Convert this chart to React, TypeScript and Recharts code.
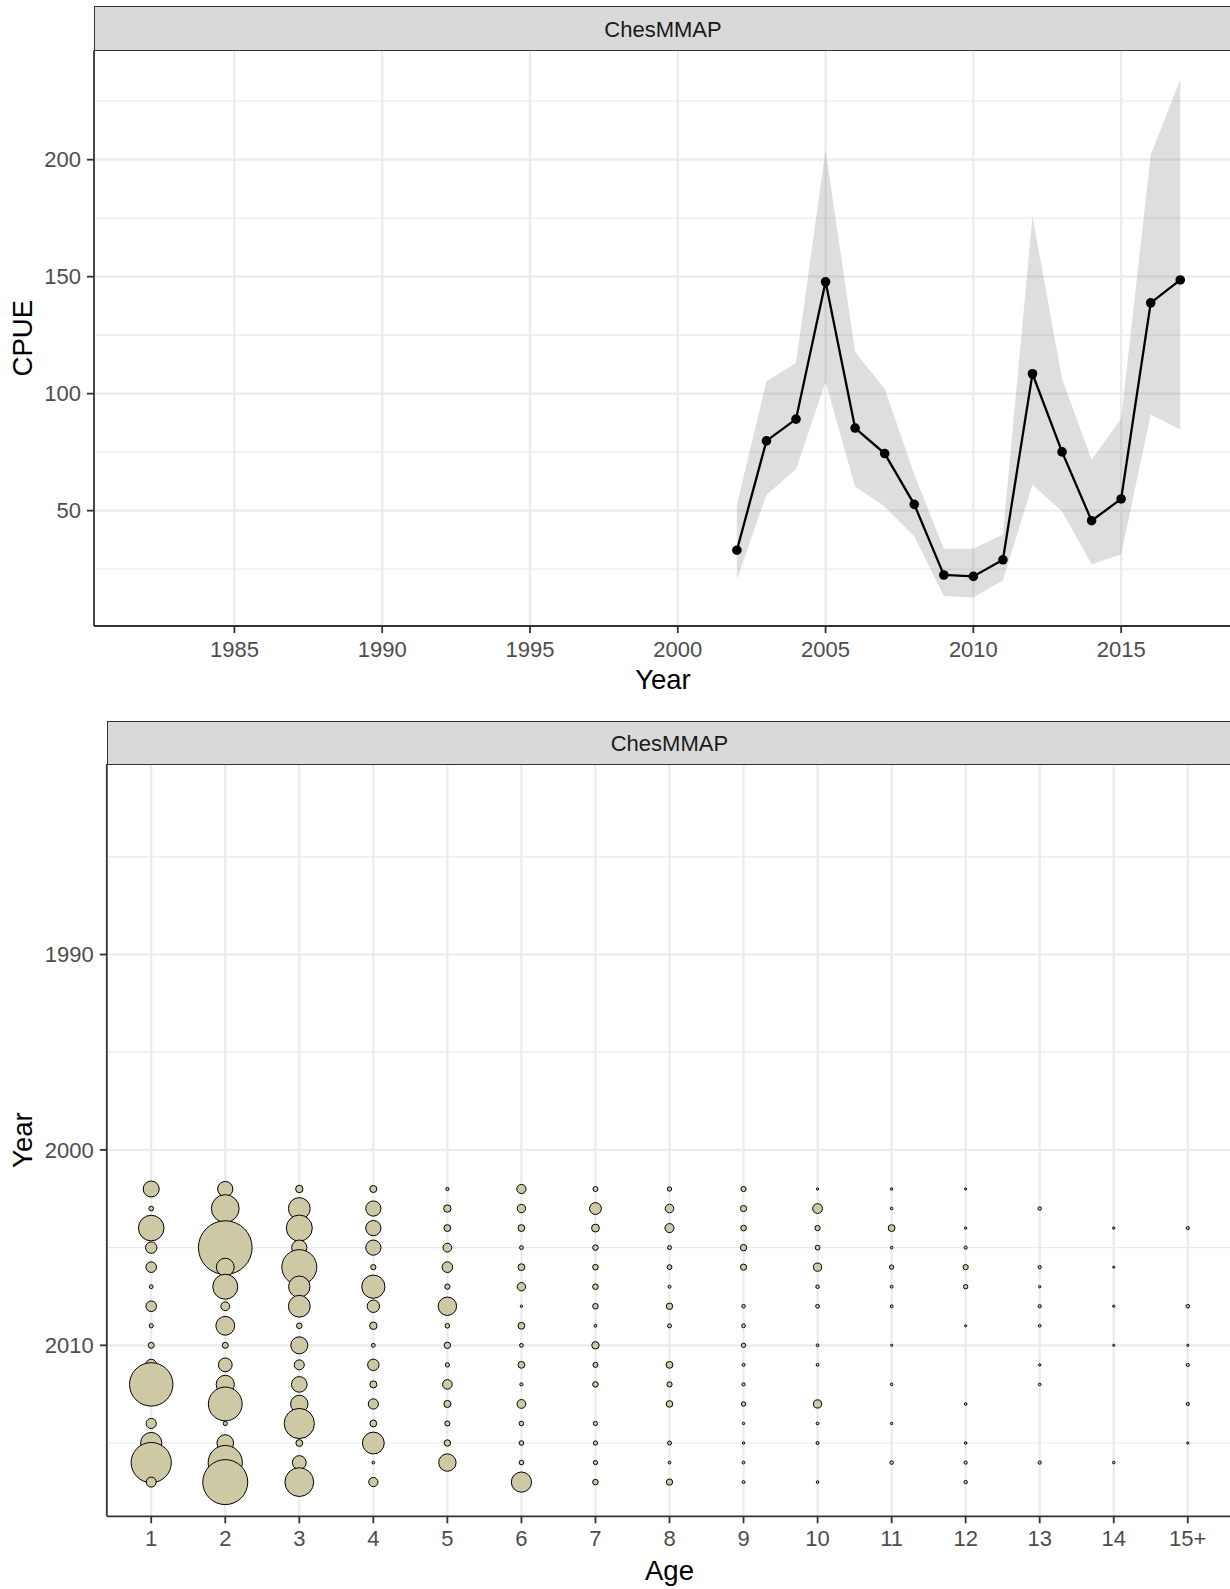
import {
  ComposedChart,
  ScatterChart,
  Area,
  Line,
  Scatter,
  XAxis,
  YAxis,
  ZAxis,
  CartesianGrid,
} from "recharts";

// CPUE index with 95% band
const surveyYears = [2002, 2003, 2004, 2005, 2006, 2007, 2008, 2009, 2010, 2011, 2012, 2013, 2014, 2015, 2016, 2017];
const cpue = [33.1, 79.8, 89.1, 147.8, 85.3, 74.4, 52.7, 22.5, 21.9, 29.0, 108.5, 75.1, 45.7, 55.0, 138.8, 148.6];
const cpueLo = [20.6, 56.8, 67.7, 105.0, 60.3, 51.8, 39.1, 13.5, 12.9, 20.2, 61.1, 49.7, 27.1, 31.3, 91.1, 84.7];
const cpueHi = [52.6, 105.3, 113.1, 204.2, 117.7, 102.1, 65.6, 33.7, 33.7, 39.8, 175.9, 106.4, 71.7, 89.4, 202.1, 234.3];

const yearTicks = [1985, 1990, 1995, 2000, 2005, 2010, 2015];
const cpueTicks = [50, 100, 150, 200];
const cpueMinor = [25, 75, 125, 175, 225];

// proportion at age, one row per age, columns follow surveyYears
const ageLabels = ["1", "2", "3", "4", "5", "6", "7", "8", "9", "10", "11", "12", "13", "14", "15+"];
const propAtAge: (number | null)[][] = [
  [0.064, 0.0053, 0.1638, 0.0325, 0.0281, 0.0036, 0.0281, 0.0044, 0.009, 0.0314, 0.4709, null, 0.026, 0.1124, 0.404, 0.025],
  [0.0578, 0.1932, 0.013, 0.7213, 0.0792, 0.1563, 0.0194, 0.0884, 0.009, 0.0476, 0.0828, 0.2856, 0.0044, 0.0689, 0.2924, 0.5063],
  [0.0137, 0.1188, 0.169, 0.0578, 0.3063, 0.1145, 0.1188, 0.0078, 0.0723, 0.025, 0.0608, 0.0757, 0.228, 0.0116, 0.0476, 0.2074],
  [0.0123, 0.0578, 0.0578, 0.0578, 0.0068, 0.1346, 0.0384, 0.0137, 0.0036, 0.0325, 0.0123, 0.026, 0.0116, 0.1188, 0.002, 0.0212],
  [0.0026, 0.0137, 0.0116, 0.0194, 0.0281, 0.0068, 0.0846, 0.0053, 0.0102, 0.0044, 0.023, 0.0123, 0.0063, 0.0102, 0.0757, null],
  [0.0212, 0.0176, 0.0116, 0.0036, 0.0116, 0.0176, 0.0014, 0.0116, 0.0036, 0.0116, 0.0026, 0.0194, 0.0053, 0.0053, 0.0053, 0.102],
  [0.0063, 0.0348, 0.0152, 0.0078, 0.0078, 0.0078, 0.0078, 0.002, 0.0137, 0.0063, 0.0078, null, 0.0044, 0.0044, 0.0044, 0.0078],
  [0.0048, 0.0185, 0.0203, 0.004, 0.0058, 0.0023, 0.0102, 0.004, null, 0.0116, 0.0068, 0.0109, null, 0.004, 0.002, 0.0096],
  [0.0068, 0.0096, 0.0078, 0.0102, 0.0096, null, 0.0032, 0.0036, 0.0048, 0.0023, 0.0026, 0.0048, 0.0014, 0.0014, 0.002, 0.002],
  [0.0014, 0.024, 0.0068, 0.0058, 0.0168, 0.0032, 0.0036, null, 0.002, 0.002, null, 0.0168, 0.002, 0.0023, null, 0.0017],
  [0.0014, 0.0017, 0.0116, 0.0017, 0.0048, 0.002, 0.002, null, 0.0012, null, 0.0017, null, 0.0014, null, 0.0032, null],
  [0.0012, null, 0.0014, 0.0026, 0.0068, 0.0048, null, 0.0012, null, null, null, 0.0017, null, 0.0017, 0.0026, 0.0029],
  [null, 0.0029, null, null, 0.0026, 0.0014, 0.0026, 0.0017, null, 0.0014, 0.0017, null, null, null, 0.0026, null],
  [null, null, 0.0014, null, 0.0012, null, 0.0014, null, 0.0012, null, null, null, null, null, 0.0017, null],
  [null, null, 0.0026, null, null, null, 0.0032, null, 0.0012, 0.0026, null, 0.0026, null, 0.0012, null, null],
];
const bubbleYearTicks = [1990, 2000, 2010];
const bubbleYearMinor = [1985, 1995, 2005, 2015];

const FONT = "'Liberation Sans', Arial, sans-serif";
const yearDomain: [number, number] = [1980.25, 2018.75];

const cpueRows = surveyYears.map((year, i) => ({
  year,
  cpue: cpue[i],
  band: [cpueLo[i], cpueHi[i]],
}));

const bubbleRows = propAtAge.flatMap((row, a) =>
  row.flatMap((p, i) => (p == null ? [] : [{ age: a + 1, year: surveyYears[i], prop: p }]))
);
const agePositions = ageLabels.map((_, i) => i + 1);

const tickStyle = { fill: "#4d4d4d", fontSize: 22, fontFamily: FONT };
const axisStroke = { stroke: "#333333", strokeWidth: 1.8 };
const titleStyle = { fill: "#000000", fontSize: 27.5, fontFamily: FONT };

function Strip({ top, left, height }: { top: number; left: number; height: number }) {
  return (
    <div
      style={{
        position: "absolute",
        top,
        left,
        width: 1240 - left,
        height,
        boxSizing: "border-box",
        background: "#d9d9d9",
        border: "1.8px solid #333333",
        color: "#1a1a1a",
        fontFamily: FONT,
        fontSize: 22,
        lineHeight: `${height + 0.4}px`,
        paddingRight: 8,
        textAlign: "center",
      }}
    >
      ChesMMAP
    </div>
  );
}

export default function App() {
  return (
    <div
      style={{
        position: "absolute",
        left: 0,
        top: 0,
        width: 1230,
        height: 1589,
        overflow: "hidden",
        background: "#ffffff",
      }}
    >
      <div style={{ position: "absolute", left: 0, top: 0 }}>
        <ComposedChart width={1240} height={700} data={cpueRows} margin={{ top: 50.4, right: 8, bottom: 0, left: 0 }}>
          <CartesianGrid horizontalValues={cpueMinor} vertical={false} stroke="#ebebeb" strokeWidth={1.2} />
          <CartesianGrid horizontalValues={cpueTicks} verticalValues={yearTicks} stroke="#ebebeb" strokeWidth={2.2} />
          <XAxis
            type="number"
            dataKey="year"
            domain={yearDomain}
            allowDataOverflow
            ticks={yearTicks}
            height={74}
            tickSize={7}
            tickMargin={8.5}
            tick={tickStyle}
            axisLine={axisStroke}
            tickLine={axisStroke}
            label={{ value: "Year", position: "insideBottom", offset: 11, style: titleStyle }}
          />
          <YAxis
            type="number"
            domain={[0.7, 246.7]}
            allowDataOverflow
            ticks={cpueTicks}
            width={94}
            tickSize={7}
            tickMargin={6}
            tick={tickStyle}
            axisLine={axisStroke}
            tickLine={axisStroke}
            label={{ value: "CPUE", angle: -90, position: "insideLeft", offset: 22.7, style: { ...titleStyle, textAnchor: "middle" } }}
          />
          <Area
            type="linear"
            dataKey="band"
            stroke="none"
            fill="#808080"
            fillOpacity={0.26}
            isAnimationActive={false}
          />
          <Line
            type="linear"
            dataKey="cpue"
            stroke="#000000"
            strokeWidth={2.3}
            dot={{ r: 4.8, fill: "#000000", stroke: "#000000", strokeWidth: 0 }}
            activeDot={false}
            isAnimationActive={false}
          />
        </ComposedChart>
      </div>
      <Strip top={6} left={94} height={45.3} />

      <div style={{ position: "absolute", left: 0, top: 700 }}>
        <ScatterChart width={1240} height={889} margin={{ top: 64, right: 7.8, bottom: 0, left: 0 }}>
          <CartesianGrid horizontalValues={bubbleYearMinor} vertical={false} stroke="#ebebeb" strokeWidth={1.2} />
          <CartesianGrid horizontalValues={bubbleYearTicks} verticalValues={agePositions} stroke="#ebebeb" strokeWidth={2.2} />
          <XAxis
            type="number"
            dataKey="age"
            domain={[0.4, 15.6]}
            allowDataOverflow
            ticks={agePositions}
            tickFormatter={(v: number) => ageLabels[v - 1]}
            height={72.7}
            tickSize={7}
            tickMargin={7.5}
            tick={tickStyle}
            axisLine={axisStroke}
            tickLine={axisStroke}
            label={{ value: "Age", position: "insideBottom", offset: 9.5, style: titleStyle }}
          />
          <YAxis
            type="number"
            dataKey="year"
            domain={yearDomain}
            allowDataOverflow
            reversed
            ticks={bubbleYearTicks}
            width={106.8}
            tickSize={7}
            tickMargin={6}
            tick={tickStyle}
            axisLine={axisStroke}
            tickLine={axisStroke}
            label={{ value: "Year", angle: -90, position: "insideLeft", offset: 22.7, style: { ...titleStyle, textAnchor: "middle" } }}
          />
          <ZAxis type="number" dataKey="prop" domain={[0, 1]} range={[0, 1000 * Math.PI]} />
          <Scatter
            data={bubbleRows}
            fill="#cdc9a5"
            stroke="#000000"
            strokeWidth={1}
            isAnimationActive={false}
          />
        </ScatterChart>
      </div>
      <Strip top={721} left={106.8} height={44} />
    </div>
  );
}
